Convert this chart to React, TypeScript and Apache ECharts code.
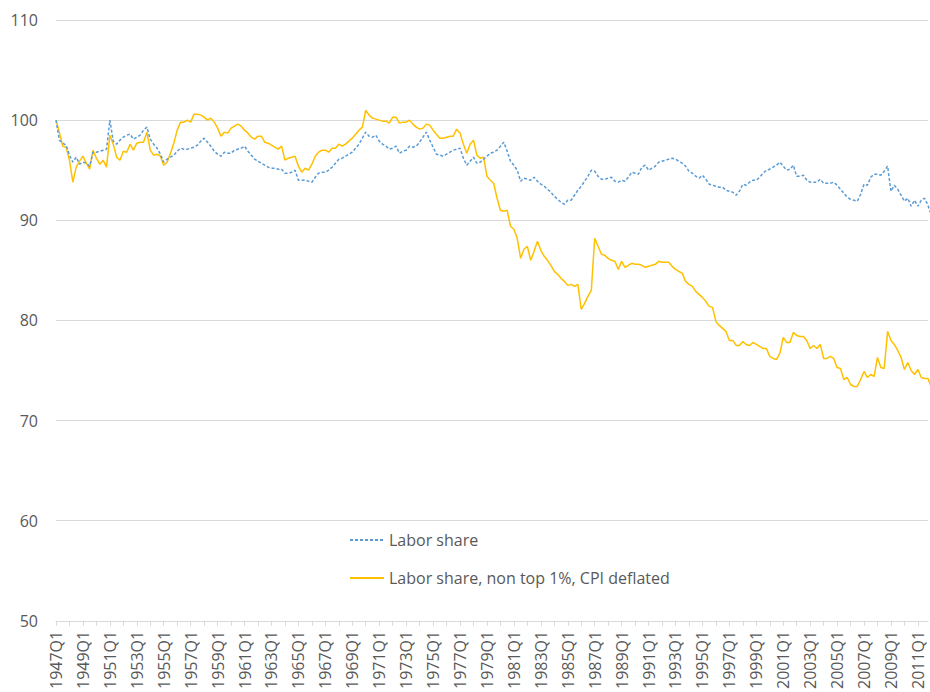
import React, { useEffect, useRef } from "react";
import * as echarts from "echarts";

// Quarters 1947Q1 .. 2011Q4
const startYear = 1947;
const endYear = 2011;
const quarters: string[] = [];
for (let y = startYear; y <= endYear; y++) {
  for (let q = 1; q <= 4; q++) quarters.push(`${y}Q${q}`);
}

// Labor share (index, 1947Q1 = 100)
const laborShare: number[] = [
  100.0, 98.0, 97.7, 97.5, 96.5, 95.8, 96.3, 95.6,
  95.8, 95.7, 95.4, 96.8, 96.8, 96.9, 97.0, 97.1,
  100.0, 97.9, 97.6, 98.0, 98.3, 98.5, 98.6, 98.1,
  98.3, 98.5, 99.0, 99.3, 98.1, 97.6, 97.2, 96.6,
  95.8, 96.1, 96.3, 96.5, 96.9, 97.2, 97.1, 97.1,
  97.2, 97.3, 97.5, 97.9, 98.2, 97.8, 97.4, 96.9,
  96.6, 96.4, 96.8, 96.7, 96.7, 97.0, 97.1, 97.2,
  97.4, 96.9, 96.5, 96.1, 95.9, 95.7, 95.5, 95.3,
  95.2, 95.2, 95.1, 95.1, 94.7, 94.7, 94.8, 95.0,
  94.0, 94.0, 94.0, 93.9, 93.8, 94.3, 94.7, 94.8,
  94.8, 95.0, 95.3, 95.7, 96.1, 96.2, 96.4, 96.6,
  96.8, 97.2, 97.6, 98.2, 98.8, 98.4, 98.3, 98.5,
  97.9, 97.6, 97.4, 97.1, 97.2, 97.4, 96.7, 96.9,
  97.0, 97.4, 97.3, 97.4, 97.8, 98.3, 98.8, 98.0,
  97.3, 96.6, 96.5, 96.4, 96.6, 96.8, 97.0, 97.1,
  97.2, 96.2, 95.5, 95.9, 96.3, 95.7, 95.8, 96.1,
  96.4, 96.7, 96.8, 97.0, 97.4, 97.8, 96.9, 95.9,
  95.5, 95.0, 93.9, 94.2, 94.1, 94.0, 94.3, 93.9,
  93.6, 93.4, 93.1, 92.8, 92.4, 92.1, 91.8, 91.6,
  92.0, 92.0, 92.5, 93.0, 93.4, 93.9, 94.4, 95.0,
  94.9, 94.4, 94.1, 94.1, 94.2, 94.3, 93.9, 93.8,
  94.0, 93.9, 94.3, 94.8, 94.7, 94.6, 95.3, 95.5,
  95.0, 95.2, 95.4, 95.8, 95.9, 96.0, 96.1, 96.2,
  96.1, 95.9, 95.7, 95.4, 94.9, 94.7, 94.4, 94.2,
  94.5, 94.1, 93.6, 93.5, 93.4, 93.3, 93.3, 93.0,
  92.9, 92.8, 92.5, 92.9, 93.6, 93.5, 93.8, 94.0,
  94.0, 94.3, 94.7, 95.0, 95.1, 95.3, 95.5, 95.8,
  95.4, 95.0, 95.1, 95.5, 94.4, 94.4, 94.5, 94.0,
  93.8, 93.8, 93.8, 94.1, 93.7, 93.7, 93.7, 93.8,
  93.5, 93.1, 92.7, 92.3, 92.1, 92.0, 91.9, 92.6,
  93.6, 93.5, 94.3, 94.6, 94.6, 94.5, 94.9, 95.4,
  92.9, 93.5, 93.1, 92.5, 91.9, 92.2, 91.4, 92.0,
  91.4, 92.0, 92.2, 91.5, 90.5, 91.0
];

// Labor share, non top 1%, CPI deflated (index, 1947Q1 = 100)
const laborShareNonTop: number[] = [
  100.0, 98.8, 97.4, 97.3, 96.0, 93.8, 95.3, 95.9,
  96.4, 95.7, 95.1, 97.0, 96.2, 95.6, 96.0, 95.3,
  98.5, 97.6, 96.3, 96.0, 96.9, 96.8, 97.6, 97.0,
  97.7, 97.8, 97.8, 98.8, 97.0, 96.5, 96.6, 96.4,
  95.5, 95.8, 96.7, 97.7, 99.0, 99.8, 99.8, 100.0,
  99.8, 100.6, 100.6, 100.5, 100.3, 100.0, 100.2, 99.8,
  99.2, 98.4, 98.8, 98.7, 99.2, 99.4, 99.6, 99.4,
  99.0, 98.7, 98.3, 98.1, 98.4, 98.4, 97.8, 97.7,
  97.5, 97.3, 97.1, 97.4, 96.0, 96.2, 96.3, 96.4,
  95.4, 94.8, 95.2, 95.0, 95.6, 96.4, 96.8, 97.0,
  97.0, 96.8, 97.2, 97.2, 97.6, 97.4, 97.6, 97.9,
  98.2, 98.6, 99.0, 99.3, 101.0, 100.5, 100.2, 100.1,
  100.0, 99.9, 99.9, 99.7, 100.3, 100.3, 99.7, 99.8,
  99.8, 100.0, 99.6, 99.3, 99.1, 99.2, 99.6, 99.5,
  99.0, 98.6, 98.2, 98.2, 98.3, 98.4, 98.4, 99.1,
  98.7, 97.6, 96.7, 97.6, 98.0, 96.5, 96.2, 96.3,
  94.4, 94.0, 93.7, 92.2, 91.0, 90.9, 91.0, 89.4,
  89.1, 88.2, 86.2, 87.1, 87.4, 86.0, 86.9, 87.9,
  87.0, 86.4, 86.0, 85.5, 84.9, 84.6, 84.2, 83.9,
  83.5, 83.6, 83.4, 83.6, 81.1, 81.7, 82.4, 83.0,
  88.2, 87.4, 86.6, 86.5, 86.2, 86.0, 85.9, 85.1,
  85.9, 85.3, 85.5, 85.7, 85.6, 85.6, 85.5, 85.3,
  85.4, 85.5, 85.6, 85.9, 85.8, 85.8, 85.8, 85.4,
  85.1, 84.9, 84.7, 83.9, 83.6, 83.4, 82.9, 82.6,
  82.3, 81.9, 81.4, 81.3, 79.9, 79.5, 79.2, 78.9,
  78.0, 78.0, 77.5, 77.5, 77.9, 77.6, 77.5, 77.8,
  77.6, 77.4, 77.2, 77.2, 76.4, 76.2, 76.1, 76.7,
  78.3, 77.8, 77.8, 78.8, 78.5, 78.4, 78.4, 78.0,
  77.2, 77.5, 77.2, 77.6, 76.2, 76.2, 76.4, 76.2,
  75.3, 75.2, 74.1, 74.3, 73.6, 73.4, 73.4, 74.1,
  74.9, 74.3, 74.6, 74.4, 76.3, 75.3, 75.2, 78.9,
  78.0, 77.6, 77.0, 76.3, 75.1, 75.8, 75.0, 74.6,
  75.1, 74.3, 74.2, 74.2, 73.3, 72.9
];

const yTicks = { min: 50, max: 110, interval: 10 };
const seriesNames = ["Labor share", "Labor share, non top 1%, CPI deflated"];

const FONT = "Open Sans";
const TEXT = "#595959";
const GRID = "#D9D9D9";

export default function App() {
  const ref = useRef<HTMLDivElement>(null);
  useEffect(() => {
    if (!ref.current) return;
    const chart = echarts.init(ref.current, undefined, { renderer: "svg" });
    chart.setOption({
      animation: false,
      backgroundColor: "#ffffff",
      textStyle: { fontFamily: FONT },
      grid: { left: 56, right: 2, top: 20, bottom: 71, containLabel: false },
      legend: {
        orient: "vertical",
        left: 349,
        top: 532,
        padding: 0,
        itemWidth: 34,
        itemHeight: 14,
        itemGap: 22,
        itemStyle: { opacity: 0 },
        textStyle: { color: TEXT, fontSize: 16, fontFamily: FONT },
        data: seriesNames,
      },
      xAxis: {
        type: "category",
        data: quarters,
        boundaryGap: false,
        axisLine: { show: true, lineStyle: { color: GRID, width: 1 } },
        axisTick: { show: true, interval: 3, length: 5, lineStyle: { color: GRID } },
        axisLabel: {
          interval: 7,
          rotate: 90,
          margin: 10,
          color: TEXT,
          fontSize: 16,
          fontFamily: FONT,
        },
        splitLine: { show: false },
      },
      yAxis: {
        type: "value",
        min: yTicks.min,
        max: yTicks.max,
        interval: yTicks.interval,
        axisLine: { show: false },
        axisTick: { show: false },
        axisLabel: { color: TEXT, fontSize: 16, fontFamily: FONT, margin: 18 },
        splitLine: { show: true, lineStyle: { color: GRID, width: 1 } },
      },
      series: [
        {
          name: seriesNames[0],
          type: "line",
          data: laborShare,
          symbol: "none",
          lineStyle: { color: "#5B9BD5", width: 1.5, type: [3, 2] },
          itemStyle: { color: "#5B9BD5" },
          z: 3,
        },
        {
          name: seriesNames[1],
          type: "line",
          data: laborShareNonTop,
          symbol: "none",
          lineStyle: { color: "#FFC000", width: 1.5, type: "solid" },
          itemStyle: { color: "#FFC000" },
          z: 2,
        },
      ],
    });
    return () => chart.dispose();
  }, []);
  return (
    <div
      ref={ref}
      style={{ position: "fixed", left: 0, top: 0, width: 930, height: 692, background: "#fff" }}
    />
  );
}
